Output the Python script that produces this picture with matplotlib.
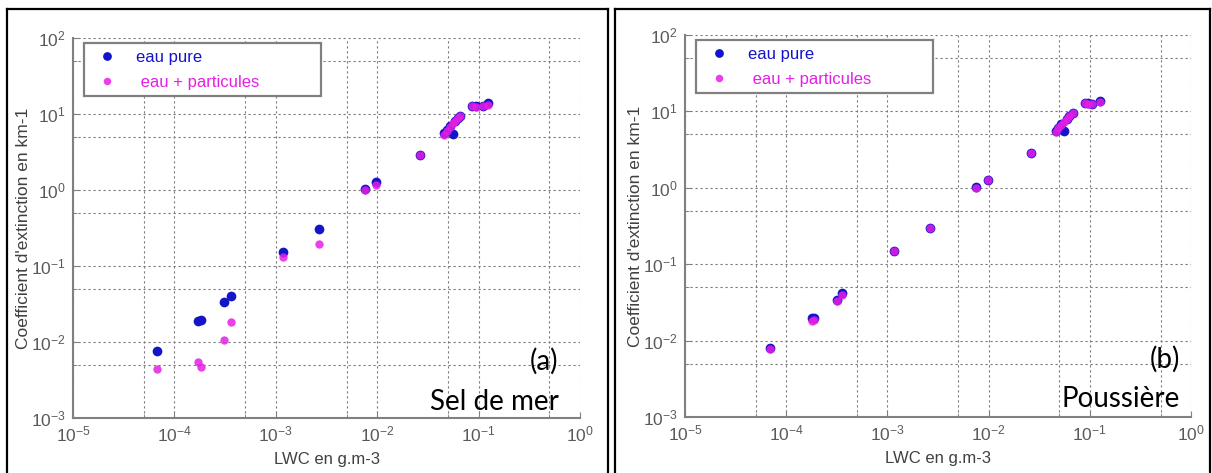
import matplotlib
matplotlib.use("Agg")
import matplotlib.pyplot as plt
from matplotlib.ticker import LogLocator, LogFormatterSciNotation, NullFormatter
from matplotlib.lines import Line2D

# ---------------- data ----------------
lwc_a = [6.7e-5, 1.7e-4, 1.85e-4, 3.1e-4, 3.6e-4, 1.17e-3, 2.65e-3, 7.6e-3, 9.8e-3, 2.65e-2,
         4.6e-2, 4.9e-2, 5.2e-2, 5.6e-2, 5.9e-2, 6.3e-2, 6.6e-2, 8.6e-2, 9.5e-2, 1.1e-1, 1.24e-1]
pure_a = [7.6e-3, 1.9e-2, 1.97e-2, 3.4e-2, 4.05e-2, 0.155, 0.305, 1.04, 1.29, 2.9,
          5.7, 6.2, 6.9, 5.5, 8.0, 8.8, 9.5, 12.8, 12.6, 12.6, 13.8]
part_a = [4.4e-3, 5.4e-3, 4.7e-3, 1.05e-2, 1.85e-2, 0.131, 0.197, 1.0, 1.16, 2.85,
          5.3, 6.0, 6.8, 7.5, 8.2, 8.9, 9.5, 12.8, 12.3, 12.6, 13.0]

lwc_b = [6.9e-5, 1.78e-4, 1.9e-4, 3.15e-4, 3.6e-4, 1.17e-3, 2.62e-3, 7.5e-3, 9.8e-3, 2.62e-2,
         4.6e-2, 4.9e-2, 5.2e-2, 5.5e-2, 5.9e-2, 6.3e-2, 6.8e-2, 8.9e-2, 9.6e-2, 1.04e-1, 1.26e-1]
pure_b = [7.9e-3, 1.95e-2, 2.0e-2, 3.4e-2, 4.15e-2, 0.150, 0.302, 1.01, 1.26, 2.87,
          5.6, 6.1, 6.8, 5.5, 8.0, 8.7, 9.5, 12.8, 12.7, 12.5, 13.7]
part_b = [7.7e-3, 1.8e-2, 1.85e-2, 3.3e-2, 4.0e-2, 0.148, 0.298, 1.0, 1.25, 2.85,
          5.3, 6.0, 6.7, 7.3, 8.0, 8.7, 9.5, 12.8, 12.6, 12.5, 13.2]

legend_labels = ["eau pure", " eau + particules"]
panel_tags = ["(a)", "(b)"]
panel_names = ["Sel de mer", "Poussière"]
xlabel = "LWC en g.m-3"
ylabel = "Coefficient d'extinction en km-1"
xlim = (1e-5, 1e0)
ylim = (1e-3, 1e2)

BLUE = "#1414c8"
MAGENTA = "#e61ee6"
GRID = "#7a7a7a"
TICKC = "#5a5a5a"

W, H = 1212, 473
fig = plt.figure(figsize=(W / 100, H / 100), dpi=100)
fig.patch.set_facecolor("white")

# table cell borders
def px_line(x0, y0, x1, y1, lw=1.6):
    fig.add_artist(Line2D([x0 / W, x1 / W], [1 - y0 / H, 1 - y1 / H],
                          transform=fig.transFigure, color="black", lw=lw))

px_line(7, 9, 608, 9)
px_line(7, 9, 7, 473)
px_line(608, 9, 608, 473)
px_line(615, 9, 1210, 9)
px_line(615, 9, 615, 473)
px_line(1210, 9, 1210, 473)

axes_px = [(73, 38, 580, 418), (685, 35, 1191, 417)]
datasets = [(lwc_a, pure_a, part_a), (lwc_b, pure_b, part_b)]
tag_pos = [(0.958, 0.149, 0.043), (0.978, 0.152, 0.047)]

for i, ((l, t, r, b), (lwc, pure, part)) in enumerate(zip(axes_px, datasets)):
    ax = fig.add_axes([l / W, 1 - b / H, (r - l) / W, (b - t) / H])
    ax.set_xscale("log")
    ax.set_yscale("log")
    ax.set_xlim(*xlim)
    ax.set_ylim(*ylim)
    for axis in (ax.xaxis, ax.yaxis):
        axis.set_major_locator(LogLocator(base=10, numticks=10))
        axis.set_minor_locator(LogLocator(base=10, subs=(5.0,), numticks=10))
        axis.set_major_formatter(LogFormatterSciNotation())
        axis.set_minor_formatter(NullFormatter())
    ax.grid(True, which="both", linestyle=(0, (2, 2.5)), color=GRID, lw=0.8)
    ax.set_axisbelow(True)
    for s in ("top", "right"):
        ax.spines[s].set_visible(False)
    for s in ("left", "bottom"):
        ax.spines[s].set_color("#808080")
        ax.spines[s].set_linewidth(1.5)
    ax.tick_params(which="major", direction="in", length=4, color="#808080",
                   labelsize=12.5, labelcolor=TICKC, pad=5)
    ax.tick_params(which="minor", direction="in", length=3, color="#808080")
    for lab in ax.get_xticklabels() + ax.get_yticklabels():
        lab.set_fontfamily("Liberation Sans")

    ax.plot(lwc, pure, linestyle="none", marker="o", ms=7, color=BLUE,
            markeredgewidth=0, label=legend_labels[0], zorder=3)
    ax.plot(lwc, part, linestyle="none", marker="o", ms=6, color=MAGENTA,
            markeredgewidth=0, alpha=0.85, label=legend_labels[1], zorder=4)

    ax.set_xlabel(xlabel, fontsize=12, color="#404040", family="Liberation Sans", labelpad=5)
    ax.set_ylabel(ylabel, fontsize=12.5, color="#404040", family="Liberation Sans", labelpad=0)

    leg_w = 237 / (r - l)
    leg = ax.legend(loc="upper left", bbox_to_anchor=(11 / (r - l), 1 - 5 / (b - t), leg_w, 0.0),
                    mode="expand", borderaxespad=0, fancybox=False, framealpha=1,
                    edgecolor="#808080", prop={"family": "Liberation Sans", "size": 12},
                    handlelength=2.0, handletextpad=0.7, borderpad=0.4, labelspacing=0.6,
                    markerscale=0.9)
    leg.get_frame().set_linewidth(1.6)
    for txt, c in zip(leg.get_texts(), [BLUE, MAGENTA]):
        txt.set_color(c)

    tx, ty1, ty2 = tag_pos[i]
    ax.text(tx, ty1, panel_tags[i], transform=ax.transAxes, ha="right", va="center",
            fontsize=20, family="Lato", color="black", zorder=6)
    ax.text(tx, ty2, panel_names[i], transform=ax.transAxes, ha="right", va="center",
            fontsize=20, family="Lato", color="black", zorder=6)

fig.savefig("out.png", dpi=100)
